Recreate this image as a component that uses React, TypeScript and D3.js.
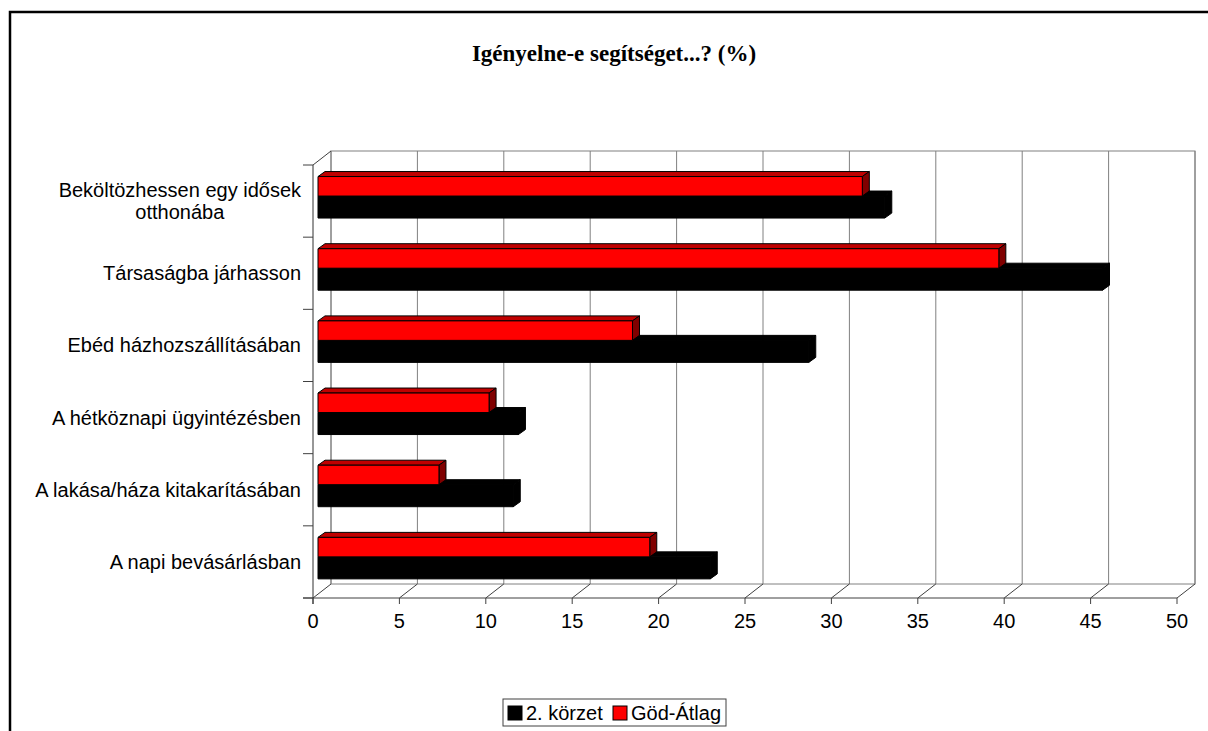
import React, { useEffect, useRef } from "react";
import * as d3 from "d3";

const categories = [
  "Beköltözhessen egy idősek|otthonába",
  "Társaságba járhasson",
  "Ebéd házhozszállításában",
  "A hétköznapi ügyintézésben",
  "A lakása/háza kitakarításában",
  "A napi bevásárlásban",
];
const korzet2 = [32.8, 45.4, 28.4, 11.6, 11.3, 22.7];
const godAtlag = [31.5, 39.4, 18.2, 9.9, 7.0, 19.2];
const xTicks = [0, 5, 10, 15, 20, 25, 30, 35, 40, 45, 50];
const seriesNames = ["2. körzet", "Göd-Átlag"];
const title = "Igényelne-e segítséget...? (%)";

const W = 1208;
const H = 731;
const FONT = "'Liberation Sans', Arial, sans-serif";
const FS = 20;

export default function App() {
  const ref = useRef<SVGSVGElement>(null);

  useEffect(() => {
    const svg = d3.select(ref.current);
    svg.selectAll("*").remove();

    const left = 313, right = 1177, top = 165, bottom = 598;
    const DX = 18, DY = -14;
    const bDX = 7, bDY = -5;
    const barOff = 5;

    const x = d3.scaleLinear().domain([0, 50]).range([left, right]);
    const y = d3.scaleBand<string>().domain(categories).range([top, bottom]).padding(0);
    const bw = y.bandwidth();

    // outer border
    svg.append("rect").attr("x", 10).attr("y", 12).attr("width", 1400).attr("height", 1000)
      .attr("fill", "white").attr("stroke", "black").attr("stroke-width", 2.5);

    // title
    svg.append("text").attr("x", 614).attr("y", 61).attr("text-anchor", "middle")
      .attr("font-family", "'Liberation Serif', 'Times New Roman', serif")
      .attr("font-weight", "bold").attr("font-size", 23).text(title);

    const grid = "#808080";
    // back wall
    svg.append("rect").attr("x", left + DX).attr("y", top + DY)
      .attr("width", right - left).attr("height", bottom - top)
      .attr("fill", "none").attr("stroke", grid).attr("stroke-width", 1);
    // back gridlines
    svg.append("g").selectAll("line").data(xTicks).join("line")
      .attr("x1", (d) => x(d) + DX).attr("x2", (d) => x(d) + DX)
      .attr("y1", top + DY).attr("y2", bottom + DY)
      .attr("stroke", grid).attr("stroke-width", 1);
    // floor diagonals
    svg.append("g").selectAll("line").data(xTicks).join("line")
      .attr("x1", (d) => x(d)).attr("x2", (d) => x(d) + DX)
      .attr("y1", bottom).attr("y2", bottom + DY)
      .attr("stroke", "#404040").attr("stroke-width", 1);
    // left wall top diagonal
    svg.append("line").attr("x1", left).attr("y1", top).attr("x2", left + DX).attr("y2", top + DY)
      .attr("stroke", "#404040");
    // front floor line
    svg.append("line").attr("x1", left - 10).attr("x2", right).attr("y1", bottom).attr("y2", bottom)
      .attr("stroke", "#404040");
    // left axis
    svg.append("line").attr("x1", left).attr("x2", left).attr("y1", top).attr("y2", bottom + 6)
      .attr("stroke", "#303030");
    // category ticks
    const bounds = categories.map((c) => y(c)!).concat([bottom]);
    svg.append("g").selectAll("line").data(bounds).join("line")
      .attr("x1", left - 10).attr("x2", left).attr("y1", (d) => d).attr("y2", (d) => d)
      .attr("stroke", "#404040");
    // x ticks
    svg.append("g").selectAll("line").data(xTicks).join("line")
      .attr("x1", (d) => x(d)).attr("x2", (d) => x(d))
      .attr("y1", bottom).attr("y2", bottom + 6).attr("stroke", "#404040");
    svg.append("g").selectAll("text").data(xTicks).join("text")
      .attr("x", (d) => x(d)).attr("y", 628).attr("text-anchor", "middle")
      .attr("font-family", FONT).attr("font-size", FS).text((d) => String(d));

    // category labels
    const lg = svg.append("g").attr("font-family", FONT).attr("font-size", FS);
    categories.forEach((c) => {
      const cy = y(c)! + bw / 2;
      const lines = c.split("|");
      if (lines.length === 1) {
        lg.append("text").attr("x", 301).attr("y", cy + 7).attr("text-anchor", "end").text(lines[0]);
      } else {
        const t1 = lg.append("text").attr("x", 301).attr("y", cy - 4).attr("text-anchor", "end").text(lines[0]);
        const w = (t1.node() as SVGTextElement).getComputedTextLength();
        lg.append("text").attr("x", 301 - w / 2).attr("y", cy + 18).attr("text-anchor", "middle").text(lines[1]);
      }
    });

    // bars
    const bars = svg.append("g");
    const drawBar = (v: number, yT: number, yB: number, front: string, topC: string, side: string) => {
      const x0 = x(0) + barOff, x1 = x(v) + barOff;
      const g = bars.append("g").attr("stroke", "black").attr("stroke-width", 1).attr("stroke-linejoin", "round");
      g.append("path").attr("fill", topC)
        .attr("d", `M${x0},${yT}L${x0 + bDX},${yT + bDY}L${x1 + bDX},${yT + bDY}L${x1},${yT}Z`);
      g.append("path").attr("fill", side)
        .attr("d", `M${x1},${yT}L${x1 + bDX},${yT + bDY}L${x1 + bDX},${yB + bDY}L${x1},${yB}Z`);
      g.append("rect").attr("fill", front).attr("x", x0).attr("y", yT).attr("width", x1 - x0).attr("height", yB - yT);
    };
    categories.forEach((c, i) => {
      const b = y(c)!;
      drawBar(korzet2[i], b + bw * 0.43, b + bw * 0.735, "#000", "#000", "#000");
      drawBar(godAtlag[i], b + bw * 0.16, b + bw * 0.43, "#FF0000", "#C00000", "#800000");
    });

    // legend
    const leg = svg.append("g");
    leg.append("rect").attr("x", 503).attr("y", 699).attr("width", 223).attr("height", 27)
      .attr("fill", "white").attr("stroke", "#404040");
    const items = [
      { name: seriesNames[0], color: "#000", sx: 508, tx: 526 },
      { name: seriesNames[1], color: "#FF0000", sx: 613, tx: 631 },
    ];
    items.forEach((it) => {
      leg.append("rect").attr("x", it.sx).attr("y", 706).attr("width", 14).attr("height", 14)
        .attr("fill", it.color).attr("stroke", "black");
      leg.append("text").attr("x", it.tx).attr("y", 720).attr("font-family", FONT).attr("font-size", FS)
        .text(it.name);
    });
  }, []);

  return (
    <svg ref={ref} width={W} height={H} style={{ position: "absolute", left: 0, top: 0, display: "block" }} />
  );
}
